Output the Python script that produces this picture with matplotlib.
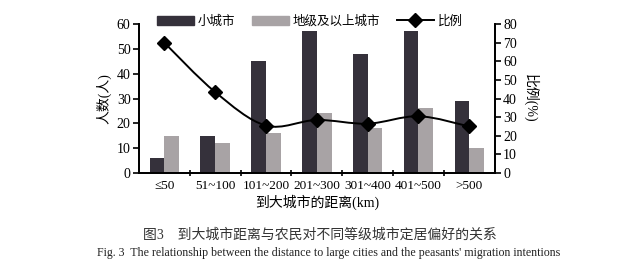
import matplotlib
matplotlib.use("Agg")
import matplotlib.pyplot as plt
import numpy as np
from matplotlib.path import Path
from matplotlib.patches import PathPatch, Patch
from matplotlib.lines import Line2D

# data
categories = ["≤50", "51~100", "101~200", "201~300", "301~400", "401~500", ">500"]
small_city = [6, 15, 45, 57, 48, 57, 29]
big_city = [15, 12, 16, 24, 18, 26, 10]
ratio = [70, 43.5, 25.5, 28.5, 26.5, 30.5, 25]

FONT = ["Liberation Serif", "Noto Sans CJK SC", "DejaVu Sans"]
plt.rcParams["font.family"] = FONT

DARK = "#35313b"
GRAY = "#a8a3a5"


def smooth_path(xs, ys):
    # catmull-rom through the points, drawn as cubic bezier segments
    pts = np.column_stack([xs, ys]).astype(float)
    ext = np.vstack([pts[0], pts, pts[-1]])
    verts = [pts[0]]
    codes = [Path.MOVETO]
    for i in range(len(pts) - 1):
        p0, p1, p2, p3 = ext[i], ext[i + 1], ext[i + 2], ext[i + 3]
        verts += [p1 + (p2 - p0) / 6, p2 - (p3 - p1) / 6, p2]
        codes += [Path.CURVE4] * 3
    return Path(verts, codes)


fig = plt.figure(figsize=(6.4, 2.76), dpi=100)
ax = fig.add_axes([0.217, 0.373, 0.556, 0.54])
ax2 = ax.twinx()

x = np.arange(len(categories))
w = 0.29
ax.bar(x - w / 2, small_city, w, color=DARK)
ax.bar(x + w / 2, big_city, w, color=GRAY)

ax2.add_patch(PathPatch(smooth_path(x, ratio), fill=False, edgecolor="black", lw=1.4))
ax2.plot(x, ratio, linestyle="none", marker="D", ms=7, color="black")

ax.set_xlim(-0.5, len(categories) - 0.5)
ax.set_ylim(0, 60)
ax2.set_ylim(0, 80)
ax.set_yticks(np.arange(0, 61, 10))
ax2.set_yticks(np.arange(0, 81, 10))
ax.set_xticks(x)
ax.set_xticklabels(categories, fontsize=9.5)
ax.set_xticks(x[:-1] + 0.5, minor=True)
ax.tick_params(axis="x", which="major", length=0, pad=5)
ax.tick_params(axis="x", which="minor", length=4, direction="inout", width=1.2)
ax.tick_params(axis="y", labelsize=10, length=4, width=1.2, pad=2)
ax2.tick_params(axis="y", labelsize=10, length=4, width=1.2, pad=2)

for a in (ax, ax2):
    a.spines["top"].set_visible(False)
    for s in ("left", "right", "bottom"):
        a.spines[s].set_linewidth(1.3)

ax.set_ylabel("人数(人)", fontsize=10, labelpad=4)
ax2.set_ylabel("比例(%)", fontsize=10, rotation=270, va="center", ha="center")
ax2.yaxis.set_label_coords(1.1, 0.5)
ax.set_xlabel("到大城市的距离(km)", fontsize=10, labelpad=2)

handles = [
    Patch(color=DARK, label="小城市"),
    Patch(color=GRAY, label="地级及以上城市"),
    Line2D([], [], color="black", marker="D", ms=7, lw=1.4, label="比例"),
]
fig.legend(handles=handles, loc="center", bbox_to_anchor=(0.484, 0.922), ncol=3,
           frameon=False, fontsize=9, handlelength=3.0, handleheight=0.7,
           columnspacing=1.3, handletextpad=0.3)

fig.text(0.5, 0.148, "图3　到大城市距离与农民对不同等级城市定居偏好的关系",
         ha="center", va="center", fontsize=10, color="#333333")
fig.text(0.513, 0.085,
         "Fig. 3  The relationship between the distance to large cities and the peasants' migration intentions",
         ha="center", va="center", fontsize=8.6, color="#222222")

fig.savefig("out.png", dpi=100)
